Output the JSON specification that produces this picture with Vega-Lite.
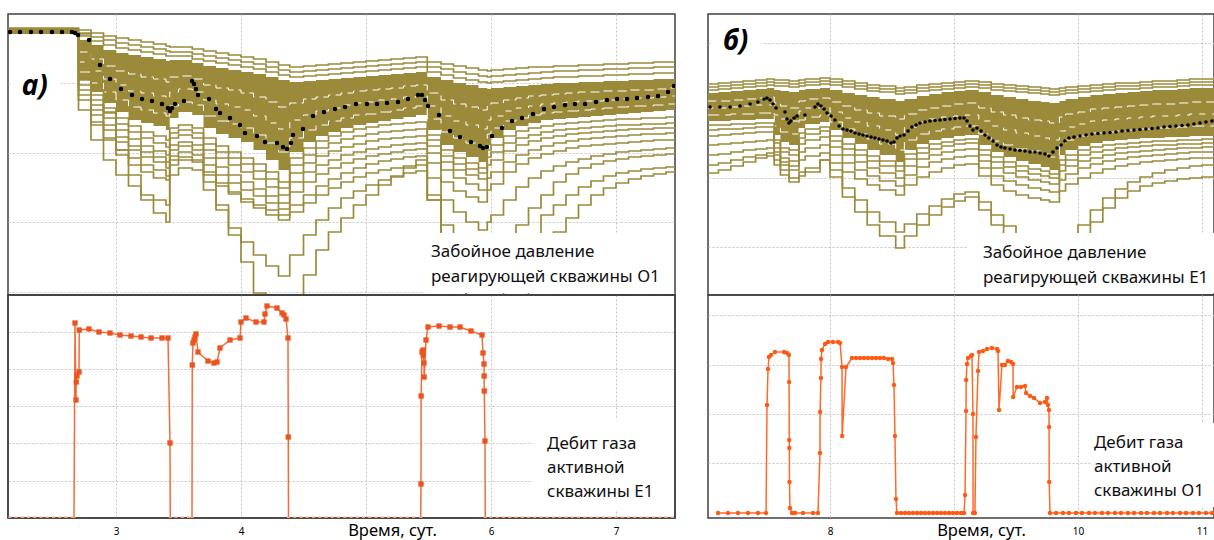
{
"$schema": "https://vega.github.io/schema/vega-lite/v6.json",
"background": "white",
"padding": {"left": 6, "top": 13, "right": 0, "bottom": 0},
"config": {
  "view": {"stroke": "#404040", "strokeWidth": 1.5},
  "axis": {"gridColor": "#c4c4c4", "gridDash": [2, 2], "gridWidth": 1, "labelFont": "Noto Sans", "titleFont": "Noto Sans", "minExtent": 0},
  "text": {"font": "Noto Sans"}
},
"datasets": {
"pa": [
{"t":2.13,"U1":272,"U2":271,"U3":270,"BT":272,"BB":266,"L1":267,"L2":267,"L3":267,"L4":267,"L5":267,"L6":267,"L7":267,"L8":267,"L9":267},
{"t":2.7,"U1":270,"U2":267,"U3":264,"BT":260,"BB":220,"L1":240,"L2":230,"L3":220,"L4":215,"L5":210,"L6":205,"L7":200,"L8":190,"L9":266,"W1":248,"W2":238,"W3":228},
{"t":2.8,"U1":267,"U2":263,"U3":259,"BT":255,"BB":208,"L1":205,"L2":200,"L3":195,"L4":190,"L5":185,"L6":178,"L7":175,"L8":160,"L9":210,"W1":241,"W2":229,"W3":217},
{"t":2.9,"U1":264,"U2":260,"U3":255,"BT":250,"BB":197,"L1":192,"L2":188,"L3":182,"L4":175,"L5":170,"L6":162,"L7":160,"L8":140,"L9":187,"W1":234,"W2":221,"W3":208},
{"t":3.0,"U1":262,"U2":257,"U3":252,"BT":247,"BB":188,"L1":182,"L2":176,"L3":170,"L4":163,"L5":158,"L6":150,"L7":145,"L8":125,"L9":150,"W1":229,"W2":215,"W3":200},
{"t":3.1,"U1":260,"U2":255,"U3":250,"BT":245,"BB":180,"L1":174,"L2":168,"L3":161,"L4":154,"L5":150,"L6":142,"L7":135,"L8":114,"L9":125,"W1":226,"W2":209,"W3":193},
{"t":3.2,"U1":258,"U2":253,"U3":248,"BT":243,"BB":177,"L1":168,"L2":162,"L3":154,"L4":148,"L5":143,"L6":135,"L7":128,"L8":105,"L9":100,"W1":223,"W2":207,"W3":190},
{"t":3.3,"U1":256,"U2":251,"U3":246,"BT":241,"BB":174,"L1":164,"L2":157,"L3":149,"L4":143,"L5":138,"L6":130,"L7":122,"L8":100,"L9":87,"W1":221,"W2":204,"W3":187},
{"t":3.4,"U1":254,"U2":249,"U3":244,"BT":239,"BB":170,"L1":160,"L2":153,"L3":145,"L4":138,"L5":132,"L6":124,"L7":120,"L8":95,"L9":78,"W1":218,"W2":201,"W3":184},
{"t":3.43,"U1":253,"U2":248,"U3":244,"BT":240,"BB":182,"L1":172,"L2":167,"L3":162,"L4":155,"L5":150,"L6":144,"L7":140,"L8":125,"L9":135,"W1":223,"W2":208,"W3":194},
{"t":3.5,"U1":253,"U2":248,"U3":244,"BT":240,"BB":188,"L1":175,"L2":170,"L3":165,"L4":158,"L5":154,"L6":148,"L7":143,"L8":132,"L9":140,"W1":224,"W2":211,"W3":198},
{"t":3.61,"U1":251,"U2":246,"U3":241,"BT":237,"BB":185,"L1":172,"L2":167,"L3":162,"L4":155,"L5":150,"L6":145,"L7":140,"L8":130,"L9":138,"W1":221,"W2":208,"W3":195},
{"t":3.7,"U1":249,"U2":244,"U3":239,"BT":234,"BB":172,"L1":162,"L2":156,"L3":150,"L4":142,"L5":135,"L6":128,"L7":125,"L8":110,"L9":118,"W1":215,"W2":200,"W3":184},
{"t":3.8,"U1":247,"U2":242,"U3":237,"BT":232,"BB":166,"L1":154,"L2":148,"L3":142,"L4":133,"L5":125,"L6":117,"L7":114,"L8":90,"L9":95,"W1":212,"W2":196,"W3":179},
{"t":3.9,"U1":245,"U2":240,"U3":235,"BT":230,"BB":162,"L1":148,"L2":142,"L3":135,"L4":125,"L5":117,"L6":108,"L7":106,"L8":72,"L9":65,"W1":210,"W2":193,"W3":176},
{"t":4.0,"U1":243,"U2":238,"U3":233,"BT":228,"BB":158,"L1":142,"L2":136,"L3":128,"L4":118,"L5":110,"L6":101,"L7":98,"L8":58,"L9":38,"W1":207,"W2":190,"W3":172},
{"t":4.1,"U1":241,"U2":236,"U3":231,"BT":226,"BB":150,"L1":136,"L2":129,"L3":121,"L4":111,"L5":104,"L6":95,"L7":92,"L8":45,"L9":7,"W1":203,"W2":184,"W3":165},
{"t":4.2,"U1":238,"U2":233,"U3":228,"BT":223,"BB":140,"L1":128,"L2":121,"L3":113,"L4":104,"L5":97,"L6":90,"L7":85,"L8":34,"L9":-20,"W1":198,"W2":177,"W3":157},
{"t":4.3,"U1":235,"U2":230,"U3":225,"BT":220,"BB":130,"L1":118,"L2":112,"L3":105,"L4":97,"L5":91,"L6":85,"L7":80,"L8":24,"L9":-30,"W1":193,"W2":171,"W3":148},
{"t":4.39,"U1":233,"U2":228,"U3":223,"BT":218,"BB":148,"L1":142,"L2":135,"L3":127,"L4":118,"L5":108,"L6":95,"L7":88,"L8":45,"L9":-20,"W1":197,"W2":180,"W3":162},
{"t":4.5,"U1":234,"U2":229,"U3":224,"BT":219,"BB":158,"L1":152,"L2":145,"L3":137,"L4":128,"L5":118,"L6":105,"L7":97,"L8":65,"L9":25,"W1":201,"W2":185,"W3":170},
{"t":4.6,"U1":235,"U2":230,"U3":225,"BT":220,"BB":164,"L1":159,"L2":152,"L3":144,"L4":135,"L5":126,"L6":114,"L7":105,"L8":80,"L9":50,"W1":203,"W2":189,"W3":175},
{"t":4.7,"U1":236,"U2":231,"U3":226,"BT":221,"BB":168,"L1":164,"L2":157,"L3":149,"L4":140,"L5":132,"L6":121,"L7":112,"L8":92,"L9":68,"W1":205,"W2":192,"W3":179},
{"t":4.8,"U1":237,"U2":232,"U3":227,"BT":222,"BB":172,"L1":168,"L2":161,"L3":153,"L4":145,"L5":137,"L6":127,"L7":118,"L8":102,"L9":82,"W1":207,"W2":195,"W3":182},
{"t":4.9,"U1":238,"U2":233,"U3":228,"BT":223,"BB":175,"L1":171,"L2":164,"L3":156,"L4":148,"L5":141,"L6":132,"L7":123,"L8":109,"L9":95,"W1":209,"W2":197,"W3":185},
{"t":5.0,"U1":239,"U2":234,"U3":229,"BT":224,"BB":177,"L1":173,"L2":166,"L3":159,"L4":151,"L5":144,"L6":136,"L7":127,"L8":115,"L9":105,"W1":210,"W2":198,"W3":186},
{"t":5.1,"U1":240,"U2":235,"U3":230,"BT":225,"BB":179,"L1":175,"L2":168,"L3":161,"L4":153,"L5":146,"L6":139,"L7":130,"L8":120,"L9":115,"W1":211,"W2":200,"W3":188},
{"t":5.2,"U1":241,"U2":236,"U3":231,"BT":226,"BB":181,"L1":176,"L2":169,"L3":162,"L4":155,"L5":148,"L6":141,"L7":132,"L8":124,"L9":123,"W1":212,"W2":201,"W3":190},
{"t":5.3,"U1":242,"U2":237,"U3":232,"BT":227,"BB":183,"L1":177,"L2":170,"L3":163,"L4":156,"L5":150,"L6":143,"L7":134,"L8":127,"L9":132,"W1":214,"W2":203,"W3":192},
{"t":5.4,"U1":243,"U2":238,"U3":233,"BT":228,"BB":185,"L1":178,"L2":171,"L3":164,"L4":157,"L5":151,"L6":144,"L7":135,"L8":129,"L9":140,"W1":215,"W2":204,"W3":194},
{"t":5.49,"U1":238,"U2":233,"U3":228,"BT":223,"BB":170,"L1":165,"L2":160,"L3":154,"L4":147,"L5":137,"L6":122,"L7":105,"L8":100,"L9":100,"W1":207,"W2":194,"W3":181},
{"t":5.6,"U1":236,"U2":231,"U3":225,"BT":220,"BB":155,"L1":150,"L2":144,"L3":138,"L4":130,"L5":118,"L6":100,"L7":75,"L8":60,"L9":65,"W1":200,"W2":184,"W3":168},
{"t":5.7,"U1":234,"U2":228,"U3":222,"BT":217,"BB":148,"L1":142,"L2":136,"L3":130,"L4":122,"L5":109,"L6":88,"L7":55,"L8":30,"L9":30,"W1":196,"W2":179,"W3":162},
{"t":5.8,"U1":232,"U2":226,"U3":220,"BT":215,"BB":143,"L1":137,"L2":131,"L3":125,"L4":116,"L5":103,"L6":78,"L7":38,"L8":0,"L9":-10,"W1":193,"W2":175,"W3":157},
{"t":5.9,"U1":230,"U2":224,"U3":218,"BT":212,"BB":138,"L1":132,"L2":127,"L3":121,"L4":110,"L5":98,"L6":70,"L7":25,"L8":-20,"L9":-30,"W1":190,"W2":171,"W3":153},
{"t":5.97,"U1":229,"U2":223,"U3":217,"BT":211,"BB":155,"L1":150,"L2":143,"L3":135,"L4":122,"L5":110,"L6":78,"L7":32,"L8":-20,"L9":-30,"W1":194,"W2":180,"W3":166},
{"t":6.0,"U1":230,"U2":224,"U3":218,"BT":212,"BB":162,"L1":155,"L2":148,"L3":140,"L4":128,"L5":116,"L6":85,"L7":38,"L8":-15,"L9":-30,"W1":197,"W2":184,"W3":172},
{"t":6.1,"U1":231,"U2":225,"U3":219,"BT":213,"BB":170,"L1":164,"L2":157,"L3":149,"L4":138,"L5":128,"L6":100,"L7":55,"L8":10,"L9":-20,"W1":200,"W2":189,"W3":179},
{"t":6.2,"U1":232,"U2":226,"U3":220,"BT":214,"BB":174,"L1":169,"L2":162,"L3":155,"L4":145,"L5":136,"L6":113,"L7":75,"L8":40,"L9":0,"W1":202,"W2":192,"W3":182},
{"t":6.3,"U1":233,"U2":227,"U3":221,"BT":215,"BB":177,"L1":172,"L2":165,"L3":159,"L4":150,"L5":142,"L6":122,"L7":92,"L8":65,"L9":25,"W1":204,"W2":194,"W3":185},
{"t":6.4,"U1":233,"U2":228,"U3":222,"BT":216,"BB":180,"L1":174,"L2":168,"L3":162,"L4":154,"L5":146,"L6":129,"L7":105,"L8":85,"L9":50,"W1":205,"W2":196,"W3":187},
{"t":6.5,"U1":234,"U2":229,"U3":223,"BT":217,"BB":181,"L1":176,"L2":170,"L3":164,"L4":157,"L5":149,"L6":134,"L7":118,"L8":95,"L9":68,"W1":206,"W2":197,"W3":188},
{"t":6.6,"U1":234,"U2":229,"U3":223,"BT":217,"BB":182,"L1":177,"L2":171,"L3":166,"L4":159,"L5":152,"L6":138,"L7":126,"L8":105,"L9":82,"W1":207,"W2":198,"W3":189},
{"t":6.7,"U1":235,"U2":230,"U3":224,"BT":218,"BB":183,"L1":178,"L2":172,"L3":167,"L4":161,"L5":154,"L6":141,"L7":132,"L8":113,"L9":95,"W1":208,"W2":199,"W3":190},
{"t":6.8,"U1":235,"U2":230,"U3":224,"BT":218,"BB":184,"L1":179,"L2":173,"L3":168,"L4":162,"L5":155,"L6":144,"L7":136,"L8":119,"L9":105,"W1":208,"W2":199,"W3":191},
{"t":6.9,"U1":236,"U2":231,"U3":225,"BT":219,"BB":185,"L1":180,"L2":174,"L3":169,"L4":163,"L5":156,"L6":146,"L7":139,"L8":124,"L9":112,"W1":209,"W2":200,"W3":192},
{"t":7.0,"U1":236,"U2":231,"U3":225,"BT":219,"BB":186,"L1":181,"L2":175,"L3":170,"L4":164,"L5":157,"L6":148,"L7":141,"L8":127,"L9":117,"W1":209,"W2":201,"W3":193},
{"t":7.1,"U1":237,"U2":232,"U3":226,"BT":220,"BB":187,"L1":181,"L2":175,"L3":171,"L4":165,"L5":158,"L6":149,"L7":143,"L8":129,"L9":121,"W1":210,"W2":202,"W3":194},
{"t":7.2,"U1":237,"U2":232,"U3":226,"BT":220,"BB":188,"L1":182,"L2":176,"L3":171,"L4":166,"L5":159,"L6":150,"L7":144,"L8":131,"L9":124,"W1":210,"W2":202,"W3":194},
{"t":7.3,"U1":238,"U2":233,"U3":227,"BT":221,"BB":189,"L1":182,"L2":176,"L3":172,"L4":166,"L5":160,"L6":151,"L7":145,"L8":132,"L9":126,"W1":211,"W2":203,"W3":195},
{"t":7.4,"U1":238,"U2":233,"U3":227,"BT":221,"BB":190,"L1":183,"L2":177,"L3":172,"L4":167,"L5":160,"L6":152,"L7":146,"L8":133,"L9":128,"W1":212,"W2":204,"W3":196},
{"t":7.47,"U1":238,"U2":233,"U3":227,"BT":221,"BB":190,"L1":183,"L2":177,"L3":173,"L4":167,"L5":161,"L6":152,"L7":146,"L8":134,"L9":129,"W1":212,"W2":204,"W3":196}
],
"da": [
{"t":2.152,"P":268},{"t":2.232,"P":268},{"t":2.32,"P":268},{"t":2.4,"P":268},{"t":2.488,"P":268},{"t":2.568,"P":268},{"t":2.648,"P":268},{"t":2.672,"P":267},{"t":2.696,"P":265},{"t":2.784,"P":260},{"t":2.872,"P":235},{"t":2.952,"P":221},{"t":3.04,"P":211},{"t":3.128,"P":205},{"t":3.208,"P":201},{"t":3.288,"P":199},{"t":3.368,"P":196},{"t":3.416,"P":192},{"t":3.432,"P":189},{"t":3.448,"P":192},{"t":3.472,"P":196},{"t":3.544,"P":199},{"t":3.608,"P":219},{"t":3.624,"P":216},{"t":3.64,"P":211},{"t":3.656,"P":205},{"t":3.744,"P":201},{"t":3.8,"P":191},{"t":3.832,"P":187},{"t":3.912,"P":182},{"t":3.992,"P":175},{"t":4.032,"P":167},{"t":4.128,"P":164},{"t":4.192,"P":158},{"t":4.288,"P":157},{"t":4.336,"P":153},{"t":4.368,"P":151},{"t":4.4,"P":157},{"t":4.416,"P":165},{"t":4.496,"P":171},{"t":4.576,"P":184},{"t":4.664,"P":188},{"t":4.752,"P":191},{"t":4.832,"P":193},{"t":4.92,"P":196},{"t":5.008,"P":196},{"t":5.088,"P":196},{"t":5.168,"P":197},{"t":5.256,"P":198},{"t":5.336,"P":201},{"t":5.416,"P":205},{"t":5.448,"P":205},{"t":5.472,"P":200},{"t":5.496,"P":194},{"t":5.584,"P":185},{"t":5.672,"P":169},{"t":5.752,"P":163},{"t":5.84,"P":158},{"t":5.912,"P":154},{"t":5.936,"P":152},{"t":5.968,"P":153},{"t":6.008,"P":164},{"t":6.088,"P":172},{"t":6.168,"P":179},{"t":6.248,"P":182},{"t":6.336,"P":186},{"t":6.424,"P":191},{"t":6.504,"P":193},{"t":6.592,"P":195},{"t":6.672,"P":196},{"t":6.752,"P":196},{"t":6.84,"P":198},{"t":6.928,"P":200},{"t":7.008,"P":201},{"t":7.088,"P":201},{"t":7.168,"P":202},{"t":7.256,"P":203},{"t":7.336,"P":204},{"t":7.416,"P":208},{"t":7.464,"P":214}
],
"pb": [
{"t":7.01,"U1":216,"U2":213,"U3":210,"BT":207,"BB":179,"M1":175,"M2":170,"M3":164,"M4":155,"M5":145,"M6":135,"M7":127,"W1":199,"W2":192,"W3":185},
{"t":7.1,"U1":217,"U2":214,"U3":211,"BT":208,"BB":179,"M1":175,"M2":171,"M3":165,"M4":156,"M5":146,"M6":137,"M7":130,"W1":199,"W2":192,"W3":185},
{"t":7.2,"U1":218,"U2":215,"U3":212,"BT":209,"BB":180,"M1":176,"M2":171,"M3":166,"M4":157,"M5":148,"M6":140,"M7":134,"W1":200,"W2":193,"W3":186},
{"t":7.3,"U1":219,"U2":216,"U3":213,"BT":210,"BB":180,"M1":176,"M2":172,"M3":167,"M4":158,"M5":150,"M6":143,"M7":138,"W1":201,"W2":194,"W3":186},
{"t":7.4,"U1":220,"U2":217,"U3":214,"BT":211,"BB":181,"M1":177,"M2":173,"M3":168,"M4":159,"M5":151,"M6":145,"M7":142,"W1":202,"W2":195,"W3":187},
{"t":7.49,"U1":221,"U2":218,"U3":215,"BT":212,"BB":181,"M1":177,"M2":173,"M3":168,"M4":160,"M5":152,"M6":147,"M7":144,"W1":203,"W2":195,"W3":187},
{"t":7.55,"U1":220,"U2":217,"U3":214,"BT":210,"BB":165,"M1":160,"M2":157,"M3":152,"M4":148,"M5":145,"M6":140,"M7":135,"W1":197,"W2":185,"W3":174},
{"t":7.6,"U1":220,"U2":217,"U3":214,"BT":209,"BB":158,"M1":152,"M2":148,"M3":142,"M4":138,"M5":135,"M6":130,"M7":125,"W1":194,"W2":181,"W3":168},
{"t":7.67,"U1":219,"U2":216,"U3":213,"BT":208,"BB":155,"M1":150,"M2":145,"M3":139,"M4":134,"M5":130,"M6":122,"M7":118,"W1":192,"W2":179,"W3":166},
{"t":7.75,"U1":220,"U2":217,"U3":214,"BT":210,"BB":172,"M1":167,"M2":162,"M3":156,"M4":148,"M5":140,"M6":128,"M7":124,"W1":199,"W2":189,"W3":180},
{"t":7.8,"U1":221,"U2":218,"U3":215,"BT":211,"BB":176,"M1":171,"M2":166,"M3":160,"M4":152,"M5":144,"M6":132,"M7":128,"W1":201,"W2":192,"W3":183},
{"t":7.92,"U1":222,"U2":219,"U3":216,"BT":212,"BB":178,"M1":173,"M2":169,"M3":163,"M4":155,"M5":147,"M6":140,"M7":140,"W1":202,"W2":193,"W3":185},
{"t":8.0,"U1":221,"U2":218,"U3":215,"BT":210,"BB":170,"M1":164,"M2":159,"M3":153,"M4":145,"M5":137,"M6":130,"M7":123,"W1":198,"W2":188,"W3":178},
{"t":8.1,"U1":219,"U2":216,"U3":213,"BT":207,"BB":162,"M1":156,"M2":151,"M3":145,"M4":137,"M5":128,"M6":112,"M7":103,"W1":194,"W2":182,"W3":171},
{"t":8.2,"U1":217,"U2":214,"U3":211,"BT":205,"BB":156,"M1":150,"M2":145,"M3":138,"M4":130,"M5":121,"M6":100,"M7":88,"W1":190,"W2":178,"W3":166},
{"t":8.3,"U1":215,"U2":212,"U3":209,"BT":203,"BB":150,"M1":144,"M2":139,"M3":132,"M4":124,"M5":115,"M6":88,"M7":75,"W1":187,"W2":174,"W3":161},
{"t":8.4,"U1":214,"U2":211,"U3":208,"BT":201,"BB":145,"M1":139,"M2":134,"M3":127,"M4":119,"M5":110,"M6":78,"M7":64,"W1":184,"W2":170,"W3":156},
{"t":8.53,"U1":212,"U2":209,"U3":206,"BT":199,"BB":138,"M1":134,"M2":129,"M3":122,"M4":114,"M5":105,"M6":68,"M7":52,"W1":181,"W2":165,"W3":150},
{"t":8.6,"U1":213,"U2":210,"U3":207,"BT":201,"BB":150,"M1":146,"M2":141,"M3":134,"M4":125,"M5":115,"M6":76,"M7":64,"W1":186,"W2":173,"W3":160},
{"t":8.7,"U1":215,"U2":212,"U3":209,"BT":204,"BB":156,"M1":152,"M2":147,"M3":141,"M4":133,"M5":123,"M6":86,"M7":75,"W1":190,"W2":178,"W3":166},
{"t":8.8,"U1":216,"U2":213,"U3":210,"BT":206,"BB":160,"M1":156,"M2":151,"M3":145,"M4":138,"M5":128,"M6":94,"M7":85,"W1":192,"W2":181,"W3":169},
{"t":8.9,"U1":217,"U2":214,"U3":211,"BT":208,"BB":162,"M1":158,"M2":154,"M3":148,"M4":141,"M5":132,"M6":101,"M7":93,"W1":194,"W2":183,"W3":171},
{"t":9.0,"U1":218,"U2":215,"U3":212,"BT":209,"BB":164,"M1":160,"M2":156,"M3":150,"M4":143,"M5":135,"M6":106,"M7":99,"W1":196,"W2":184,"W3":173},
{"t":9.09,"U1":219,"U2":216,"U3":213,"BT":210,"BB":165,"M1":161,"M2":157,"M3":151,"M4":144,"M5":136,"M6":108,"M7":103,"W1":197,"W2":185,"W3":174},
{"t":9.2,"U1":218,"U2":215,"U3":212,"BT":208,"BB":155,"M1":150,"M2":145,"M3":139,"M4":132,"M5":124,"M6":98,"M7":90,"W1":192,"W2":179,"W3":166},
{"t":9.3,"U1":216,"U2":213,"U3":210,"BT":205,"BB":148,"M1":143,"M2":138,"M3":132,"M4":124,"M5":115,"M6":85,"M7":75,"W1":188,"W2":174,"W3":159},
{"t":9.4,"U1":215,"U2":212,"U3":209,"BT":203,"BB":143,"M1":138,"M2":133,"M3":127,"M4":119,"M5":109,"M6":74,"M7":62,"W1":185,"W2":170,"W3":155},
{"t":9.5,"U1":214,"U2":211,"U3":208,"BT":201,"BB":139,"M1":134,"M2":129,"M3":123,"M4":115,"M5":105,"M6":64,"M7":50,"W1":182,"W2":167,"W3":151},
{"t":9.6,"U1":213,"U2":210,"U3":207,"BT":199,"BB":136,"M1":131,"M2":126,"M3":120,"M4":112,"M5":102,"M6":55,"M7":38,"W1":180,"W2":164,"W3":149},
{"t":9.7,"U1":212,"U2":209,"U3":206,"BT":198,"BB":133,"M1":129,"M2":124,"M3":118,"M4":110,"M5":100,"M6":48,"M7":28,"W1":179,"W2":162,"W3":146},
{"t":9.77,"U1":211,"U2":208,"U3":205,"BT":197,"BB":130,"M1":126,"M2":122,"M3":116,"M4":108,"M5":98,"M6":42,"M7":20,"W1":177,"W2":160,"W3":143},
{"t":9.85,"U1":212,"U2":209,"U3":206,"BT":199,"BB":145,"M1":140,"M2":135,"M3":129,"M4":120,"M5":109,"M6":50,"M7":30,"W1":183,"W2":169,"W3":156},
{"t":9.9,"U1":213,"U2":210,"U3":207,"BT":201,"BB":150,"M1":145,"M2":140,"M3":134,"M4":126,"M5":116,"M6":60,"M7":42,"W1":186,"W2":173,"W3":160},
{"t":10.0,"U1":214,"U2":211,"U3":208,"BT":203,"BB":154,"M1":150,"M2":145,"M3":139,"M4":132,"M5":122,"M6":75,"M7":62,"W1":188,"W2":176,"W3":164},
{"t":10.1,"U1":215,"U2":212,"U3":209,"BT":205,"BB":157,"M1":153,"M2":148,"M3":142,"M4":136,"M5":127,"M6":90,"M7":78,"W1":191,"W2":179,"W3":167},
{"t":10.2,"U1":216,"U2":213,"U3":210,"BT":206,"BB":159,"M1":155,"M2":150,"M3":145,"M4":139,"M5":131,"M6":102,"M7":92,"W1":192,"W2":180,"W3":168},
{"t":10.3,"U1":217,"U2":214,"U3":211,"BT":207,"BB":160,"M1":156,"M2":152,"M3":147,"M4":141,"M5":134,"M6":111,"M7":102,"W1":193,"W2":181,"W3":169},
{"t":10.4,"U1":217,"U2":214,"U3":211,"BT":208,"BB":161,"M1":157,"M2":153,"M3":148,"M4":143,"M5":136,"M6":118,"M7":109,"W1":194,"W2":182,"W3":170},
{"t":10.5,"U1":218,"U2":215,"U3":212,"BT":209,"BB":162,"M1":158,"M2":154,"M3":149,"M4":144,"M5":138,"M6":123,"M7":114,"W1":195,"W2":183,"W3":171},
{"t":10.6,"U1":219,"U2":216,"U3":213,"BT":210,"BB":162,"M1":159,"M2":155,"M3":150,"M4":145,"M5":139,"M6":127,"M7":117,"W1":196,"W2":184,"W3":172},
{"t":10.7,"U1":219,"U2":216,"U3":213,"BT":210,"BB":163,"M1":159,"M2":155,"M3":151,"M4":146,"M5":140,"M6":130,"M7":119,"W1":196,"W2":184,"W3":172},
{"t":10.8,"U1":220,"U2":217,"U3":214,"BT":211,"BB":163,"M1":160,"M2":156,"M3":152,"M4":147,"M5":141,"M6":132,"M7":121,"W1":197,"W2":185,"W3":173},
{"t":10.9,"U1":221,"U2":218,"U3":215,"BT":212,"BB":164,"M1":160,"M2":156,"M3":152,"M4":148,"M5":142,"M6":134,"M7":122,"W1":198,"W2":186,"W3":174},
{"t":11.0,"U1":221,"U2":218,"U3":215,"BT":212,"BB":164,"M1":161,"M2":157,"M3":153,"M4":148,"M5":142,"M6":135,"M7":123,"W1":198,"W2":186,"W3":174},
{"t":11.1,"U1":222,"U2":219,"U3":216,"BT":213,"BB":165,"M1":161,"M2":157,"M3":153,"M4":149,"M5":143,"M6":136,"M7":124,"W1":199,"W2":187,"W3":175}
],
"db": [
{"t":7.032,"P":193},{"t":7.113,"P":193},{"t":7.194,"P":193},{"t":7.274,"P":194},{"t":7.355,"P":196},{"t":7.419,"P":198},{"t":7.468,"P":201},{"t":7.492,"P":202},{"t":7.516,"P":200},{"t":7.54,"P":196},{"t":7.565,"P":192},{"t":7.637,"P":188},{"t":7.653,"P":181},{"t":7.669,"P":177},{"t":7.685,"P":179},{"t":7.71,"P":182},{"t":7.734,"P":184},{"t":7.798,"P":185},{"t":7.879,"P":193},{"t":7.903,"P":196},{"t":7.927,"P":194},{"t":7.952,"P":191},{"t":7.976,"P":187},{"t":8.008,"P":184},{"t":8.04,"P":180},{"t":8.073,"P":174},{"t":8.105,"P":171},{"t":8.137,"P":170},{"t":8.169,"P":169},{"t":8.202,"P":167},{"t":8.234,"P":166},{"t":8.266,"P":165},{"t":8.298,"P":164},{"t":8.331,"P":163},{"t":8.363,"P":162},{"t":8.395,"P":161},{"t":8.427,"P":160},{"t":8.46,"P":159},{"t":8.492,"P":157},{"t":8.516,"P":158},{"t":8.54,"P":162},{"t":8.565,"P":164},{"t":8.597,"P":165},{"t":8.629,"P":169},{"t":8.661,"P":173},{"t":8.694,"P":175},{"t":8.726,"P":177},{"t":8.766,"P":178},{"t":8.806,"P":179},{"t":8.847,"P":179.5},{"t":8.887,"P":180},{"t":8.927,"P":180.5},{"t":8.968,"P":181},{"t":9.008,"P":181.5},{"t":9.048,"P":182},{"t":9.081,"P":182},{"t":9.105,"P":179},{"t":9.129,"P":174},{"t":9.153,"P":170},{"t":9.185,"P":172},{"t":9.218,"P":169},{"t":9.25,"P":165},{"t":9.282,"P":162},{"t":9.315,"P":159},{"t":9.347,"P":155},{"t":9.379,"P":153},{"t":9.411,"P":152},{"t":9.452,"P":151},{"t":9.492,"P":150},{"t":9.532,"P":149.5},{"t":9.573,"P":149},{"t":9.613,"P":148},{"t":9.653,"P":148},{"t":9.694,"P":147},{"t":9.734,"P":146},{"t":9.766,"P":144},{"t":9.798,"P":148},{"t":9.831,"P":152},{"t":9.863,"P":155},{"t":9.895,"P":159},{"t":9.927,"P":162},{"t":9.968,"P":163},{"t":10.016,"P":164},{"t":10.065,"P":165},{"t":10.113,"P":166},{"t":10.161,"P":166.5},{"t":10.21,"P":167},{"t":10.258,"P":167.5},{"t":10.306,"P":168},{"t":10.355,"P":169},{"t":10.403,"P":169.5},{"t":10.452,"P":170},{"t":10.5,"P":170.5},{"t":10.548,"P":171},{"t":10.597,"P":171.5},{"t":10.645,"P":172},{"t":10.694,"P":173},{"t":10.742,"P":173.5},{"t":10.79,"P":174},{"t":10.839,"P":174.5},{"t":10.887,"P":175},{"t":10.935,"P":176},{"t":10.984,"P":177},{"t":11.032,"P":178},{"t":11.081,"P":179}
],
"ra": [
{"t":2.15,"Q":0},{"t":2.2,"Q":0},{"t":2.25,"Q":0},{"t":2.3,"Q":0},{"t":2.35,"Q":0},{"t":2.4,"Q":0},{"t":2.45,"Q":0},{"t":2.5,"Q":0},{"t":2.55,"Q":0},{"t":2.6,"Q":0},{"t":2.65,"Q":0},
{"t":2.664,"Q":0},{"t":2.672,"Q":195},{"t":2.68,"Q":118},{"t":2.682,"Q":136},{"t":2.688,"Q":142},{"t":2.704,"Q":146},{"t":2.706,"Q":188},{"t":2.784,"Q":189},{"t":2.864,"Q":186},{"t":2.952,"Q":185},{"t":3.032,"Q":183},{"t":3.12,"Q":182},{"t":3.2,"Q":181},{"t":3.28,"Q":180},{"t":3.368,"Q":180},{"t":3.416,"Q":180},{"t":3.432,"Q":75},{"t":3.434,"Q":0},
{"t":3.48,"Q":0},{"t":3.53,"Q":0},{"t":3.58,"Q":0},
{"t":3.608,"Q":0},{"t":3.61,"Q":153},{"t":3.616,"Q":175},{"t":3.624,"Q":178},{"t":3.632,"Q":181},{"t":3.64,"Q":184},{"t":3.656,"Q":166},{"t":3.736,"Q":157},{"t":3.784,"Q":155},{"t":3.808,"Q":156},{"t":3.832,"Q":170},{"t":3.912,"Q":178},{"t":3.992,"Q":180},{"t":4.0,"Q":196},{"t":4.04,"Q":200},{"t":4.12,"Q":196},{"t":4.184,"Q":196},{"t":4.192,"Q":204},{"t":4.208,"Q":212},{"t":4.288,"Q":210},{"t":4.328,"Q":205},{"t":4.344,"Q":203},{"t":4.36,"Q":199},{"t":4.376,"Q":180},{"t":4.378,"Q":81},{"t":4.38,"Q":0},
{"t":4.43,"Q":0},{"t":4.48,"Q":0},{"t":4.53,"Q":0},{"t":4.58,"Q":0},{"t":4.63,"Q":0},{"t":4.68,"Q":0},{"t":4.73,"Q":0},{"t":4.78,"Q":0},{"t":4.83,"Q":0},{"t":4.88,"Q":0},{"t":4.93,"Q":0},{"t":4.98,"Q":0},{"t":5.03,"Q":0},{"t":5.08,"Q":0},{"t":5.13,"Q":0},{"t":5.18,"Q":0},{"t":5.23,"Q":0},{"t":5.28,"Q":0},{"t":5.33,"Q":0},{"t":5.38,"Q":0},
{"t":5.438,"Q":0},{"t":5.44,"Q":34},{"t":5.441,"Q":122},{"t":5.448,"Q":166},{"t":5.456,"Q":168},{"t":5.457,"Q":163},{"t":5.464,"Q":155},{"t":5.465,"Q":141},{"t":5.48,"Q":178},{"t":5.496,"Q":191},{"t":5.584,"Q":192},{"t":5.672,"Q":191},{"t":5.752,"Q":191},{"t":5.84,"Q":187},{"t":5.928,"Q":183},{"t":5.936,"Q":165},{"t":5.944,"Q":154},{"t":5.945,"Q":142},{"t":5.946,"Q":127},{"t":5.952,"Q":77},{"t":5.954,"Q":0},
{"t":6.0,"Q":0},{"t":6.05,"Q":0},{"t":6.1,"Q":0},{"t":6.15,"Q":0},{"t":6.2,"Q":0},{"t":6.25,"Q":0},{"t":6.3,"Q":0},{"t":6.35,"Q":0},{"t":6.4,"Q":0},{"t":6.45,"Q":0},{"t":6.5,"Q":0},{"t":6.55,"Q":0},{"t":6.6,"Q":0},{"t":6.65,"Q":0},{"t":6.7,"Q":0},{"t":6.75,"Q":0},{"t":6.8,"Q":0},{"t":6.85,"Q":0},{"t":6.9,"Q":0},{"t":6.95,"Q":0},{"t":7.0,"Q":0},{"t":7.05,"Q":0},{"t":7.1,"Q":0},{"t":7.15,"Q":0},{"t":7.2,"Q":0},{"t":7.25,"Q":0},{"t":7.3,"Q":0},{"t":7.35,"Q":0},{"t":7.4,"Q":0},{"t":7.45,"Q":0}
],
"rb": [
{"t":7.097,"Q":0},{"t":7.177,"Q":0},{"t":7.258,"Q":0},{"t":7.339,"Q":0},{"t":7.419,"Q":0},{"t":7.484,"Q":0},
{"t":7.492,"Q":108},{"t":7.5,"Q":144},{"t":7.508,"Q":156},{"t":7.524,"Q":158},{"t":7.556,"Q":161},{"t":7.629,"Q":161},{"t":7.653,"Q":160},{"t":7.669,"Q":158},{"t":7.67,"Q":131},{"t":7.671,"Q":73},{"t":7.672,"Q":65},{"t":7.673,"Q":31},{"t":7.677,"Q":5},{"t":7.694,"Q":0},{"t":7.718,"Q":0},{"t":7.782,"Q":0},{"t":7.863,"Q":0},{"t":7.903,"Q":0},
{"t":7.919,"Q":60},{"t":7.92,"Q":101},{"t":7.927,"Q":135},{"t":7.928,"Q":154},{"t":7.935,"Q":163},{"t":7.96,"Q":169},{"t":7.984,"Q":171},{"t":8.024,"Q":171},{"t":8.065,"Q":171},{"t":8.081,"Q":170},{"t":8.097,"Q":146},{"t":8.098,"Q":77},{"t":8.129,"Q":146},{"t":8.177,"Q":155},{"t":8.21,"Q":155},{"t":8.242,"Q":155},{"t":8.274,"Q":155},{"t":8.306,"Q":155},{"t":8.339,"Q":155},{"t":8.371,"Q":155},{"t":8.403,"Q":155},{"t":8.435,"Q":155},{"t":8.468,"Q":154},{"t":8.5,"Q":154},{"t":8.508,"Q":150},{"t":8.516,"Q":128},{"t":8.524,"Q":77},{"t":8.532,"Q":14},{"t":8.54,"Q":0},
{"t":8.573,"Q":0},{"t":8.605,"Q":0},{"t":8.637,"Q":0},{"t":8.669,"Q":0},{"t":8.702,"Q":0},{"t":8.734,"Q":0},{"t":8.766,"Q":0},{"t":8.798,"Q":0},{"t":8.831,"Q":0},{"t":8.863,"Q":0},{"t":8.895,"Q":0},{"t":8.927,"Q":0},{"t":8.96,"Q":0},{"t":8.992,"Q":0},{"t":9.024,"Q":0},{"t":9.056,"Q":0},{"t":9.081,"Q":0},
{"t":9.089,"Q":18},{"t":9.097,"Q":102},{"t":9.098,"Q":133},{"t":9.105,"Q":149},{"t":9.113,"Q":155},{"t":9.137,"Q":157},{"t":9.145,"Q":158},{"t":9.153,"Q":99},{"t":9.154,"Q":0},{"t":9.169,"Q":0},{"t":9.177,"Q":76},{"t":9.194,"Q":142},{"t":9.202,"Q":161},{"t":9.234,"Q":162},{"t":9.266,"Q":164},{"t":9.306,"Q":165},{"t":9.347,"Q":164},{"t":9.355,"Q":162},{"t":9.363,"Q":103},{"t":9.387,"Q":148},{"t":9.411,"Q":148},{"t":9.435,"Q":152},{"t":9.46,"Q":151},{"t":9.476,"Q":149},{"t":9.477,"Q":116},{"t":9.508,"Q":126},{"t":9.54,"Q":126},{"t":9.573,"Q":127},{"t":9.581,"Q":120},{"t":9.613,"Q":117},{"t":9.645,"Q":115},{"t":9.694,"Q":110},{"t":9.734,"Q":111},{"t":9.75,"Q":115},{"t":9.758,"Q":108},{"t":9.766,"Q":103},{"t":9.767,"Q":86},{"t":9.768,"Q":31},{"t":9.774,"Q":0},
{"t":9.823,"Q":0},{"t":9.879,"Q":0},{"t":9.927,"Q":0},{"t":9.984,"Q":0},{"t":10.032,"Q":0},{"t":10.089,"Q":0},{"t":10.137,"Q":0},{"t":10.194,"Q":0},{"t":10.242,"Q":0},{"t":10.298,"Q":0},{"t":10.347,"Q":0},{"t":10.403,"Q":0},{"t":10.452,"Q":0},{"t":10.508,"Q":0},{"t":10.556,"Q":0},{"t":10.613,"Q":0},{"t":10.661,"Q":0},{"t":10.718,"Q":0},{"t":10.766,"Q":0},{"t":10.823,"Q":0},{"t":10.871,"Q":0},{"t":10.927,"Q":0},{"t":10.976,"Q":0},{"t":11.032,"Q":0},{"t":11.081,"Q":0}
]
},
"hconcat": [
{
"vconcat": [
{
"width": 667, "height": 281,
"layer": [
{"data": {"name": "pa"},
 "mark": {"type": "area", "interpolate": "step-after", "color": "#9c8a3b", "opacity": 1, "clip": true},
 "encoding": {
  "x": {"field": "t", "type": "quantitative", "scale": {"domain": [2.136, 7.472], "nice": false, "zero": false}, "axis": {"values": [3,4,5,6,7], "labels": false, "ticks": false, "domain": false, "title": null, "grid": true}},
  "y": {"field": "BT", "type": "quantitative", "scale": {"domain": [5, 286], "nice": false, "zero": false}, "axis": {"values": [8,78,147,217], "labels": false, "ticks": false, "domain": false, "title": null, "grid": true}},
  "y2": {"field": "BB"}}},
{"data": {"name": "pa"},
 "transform": [{"fold": ["W1","W2","W3"], "as": ["w","P"]}],
 "mark": {"type": "line", "interpolate": "step-after", "color": "#ffffff", "strokeWidth": 1, "clip": true},
 "encoding": {"x": {"field": "t", "type": "quantitative"}, "y": {"field": "P", "type": "quantitative"}, "detail": {"field": "w", "type": "nominal"},
  "strokeDash": {"field": "w", "type": "nominal", "scale": {"range": [[9,5],[6,7],[12,6]]}, "legend": null}}},
{"data": {"name": "pa"},
 "transform": [{"fold": ["U1","U2","U3","L1","L2","L3","L4","L5","L6","L7","L8","L9"], "as": ["s","P"]}],
 "mark": {"type": "line", "interpolate": "step-after", "color": "#9c8a3b", "strokeWidth": 1.7, "clip": true},
 "encoding": {"x": {"field": "t", "type": "quantitative"}, "y": {"field": "P", "type": "quantitative"}, "detail": {"field": "s", "type": "nominal"}}},
{"data": {"name": "da"},
 "mark": {"type": "circle", "color": "#000000", "size": 20, "opacity": 1, "clip": true},
 "encoding": {"x": {"field": "t", "type": "quantitative"}, "y": {"field": "P", "type": "quantitative"}}},
{"data": {"values": [{}]},
 "mark": {"type": "rect", "color": "white", "opacity": 1, "clip": true},
 "encoding": {"x": {"datum": 5.47}, "x2": {"datum": 7.462}, "y": {"datum": 67}, "y2": {"datum": 7}}},
{"data": {"values": [{}]},
 "mark": {"type": "rect", "color": "white", "opacity": 1},
 "encoding": {"x": {"datum": 2.16}, "x2": {"datum": 2.56}, "y": {"datum": 226}, "y2": {"datum": 208}}},
{"data": {"values": [{}]},
 "mark": {"type": "text", "text": ["Забойное давление", "реагирующей скважины О1"], "align": "left", "baseline": "middle", "fontSize": 17, "lineHeight": 25, "color": "#111111"},
 "encoding": {"x": {"datum": 5.52}, "y": {"datum": 48}}},
{"data": {"values": [{}]},
 "mark": {"type": "text", "text": "а)", "align": "left", "baseline": "alphabetic", "fontSize": 28, "fontWeight": "bold", "fontStyle": "italic", "color": "#000000"},
 "encoding": {"x": {"datum": 2.248}, "y": {"datum": 205}}}
]
},
{
"width": 667, "height": 223,
"layer": [
{"data": {"name": "ra"},
 "mark": {"type": "line", "color": "#f26c3a", "strokeWidth": 1.5, "clip": true},
 "encoding": {
  "x": {"field": "t", "type": "quantitative", "scale": {"domain": [2.136, 7.472], "nice": false, "zero": false},
        "axis": {"values": [3,4,5,6,7], "format": "d", "labelExpr": "datum.value == 5 ? '' : datum.label", "grid": true, "ticks": false, "domain": false, "labelFontSize": 10, "labelPadding": 8, "labelColor": "#000000", "title": "Время, сут.", "titleFontSize": 16.5, "titleFontWeight": "normal", "titleColor": "#000000", "titleX": 384, "titleY": 17, "titleBaseline": "alphabetic", "titleAlign": "center"}},
  "y": {"field": "Q", "type": "quantitative", "scale": {"domain": [0, 223], "nice": false, "zero": false}, "axis": {"values": [37,75,112,149,186], "labels": false, "ticks": false, "domain": false, "title": null, "grid": true}}}},
{"data": {"values": [{}]},
 "mark": {"type": "rect", "fillOpacity": 0, "stroke": "#404040", "strokeWidth": 1.5},
 "encoding": {"x": {"datum": 2.136}, "x2": {"datum": 7.472}, "y": {"datum": 0}, "y2": {"datum": 223}}},
{"data": {"name": "ra"},
 "mark": {"type": "square", "opacity": 1, "clip": true},
 "encoding": {"x": {"field": "t", "type": "quantitative"}, "y": {"field": "Q", "type": "quantitative"},
  "color": {"condition": {"test": "datum.Q == 0", "value": "#f6a27e"}, "value": "#ec5320"},
  "size": {"condition": {"test": "datum.Q == 0", "value": 9}, "value": 28}}},
{"data": {"values": [{}]},
 "mark": {"type": "rect", "color": "white", "opacity": 1},
 "encoding": {"x": {"datum": 6.336}, "x2": {"datum": 7.462}, "y": {"datum": 98}, "y2": {"datum": 8}}},
{"data": {"values": [{}]},
 "mark": {"type": "text", "text": ["Дебит газа", "активной", "скважины Е1"], "align": "left", "baseline": "middle", "fontSize": 17, "lineHeight": 24, "color": "#111111"},
 "encoding": {"x": {"datum": 6.448}, "y": {"datum": 74}}}
]
}
],
"spacing": 0, "bounds": "flush",
"resolve": {"scale": {"x": "independent", "y": "independent", "strokeDash": "independent"}}
},
{
"vconcat": [
{
"width": 506, "height": 281,
"layer": [
{"data": {"name": "pb"},
 "mark": {"type": "area", "interpolate": "step-after", "color": "#9c8a3b", "opacity": 1, "clip": true},
 "encoding": {
  "x": {"field": "t", "type": "quantitative", "scale": {"domain": [7.016, 11.097], "nice": false, "zero": false}, "axis": {"values": [8,9,10,11], "labels": false, "ticks": false, "domain": false, "title": null, "grid": true}},
  "y": {"field": "BT", "type": "quantitative", "scale": {"domain": [5, 286], "nice": false, "zero": false}, "axis": {"values": [53,122,190,257], "labels": false, "ticks": false, "domain": false, "title": null, "grid": true}},
  "y2": {"field": "BB"}}},
{"data": {"name": "pb"},
 "transform": [{"fold": ["W1","W2","W3"], "as": ["w","P"]}],
 "mark": {"type": "line", "interpolate": "step-after", "color": "#ffffff", "strokeWidth": 1, "clip": true},
 "encoding": {"x": {"field": "t", "type": "quantitative"}, "y": {"field": "P", "type": "quantitative"}, "detail": {"field": "w", "type": "nominal"},
  "strokeDash": {"field": "w", "type": "nominal", "scale": {"range": [[9,5],[6,7],[12,6]]}, "legend": null}}},
{"data": {"name": "pb"},
 "transform": [{"fold": ["U1","U2","U3","M1","M2","M3","M4","M5","M6","M7"], "as": ["s","P"]}],
 "mark": {"type": "line", "interpolate": "step-after", "color": "#9c8a3b", "strokeWidth": 1.7, "clip": true},
 "encoding": {"x": {"field": "t", "type": "quantitative"}, "y": {"field": "P", "type": "quantitative"}, "detail": {"field": "s", "type": "nominal"}}},
{"data": {"name": "db"},
 "mark": {"type": "circle", "color": "#000000", "size": 13, "opacity": 1, "clip": true},
 "encoding": {"x": {"field": "t", "type": "quantitative"}, "y": {"field": "P", "type": "quantitative"}}},
{"data": {"values": [{}]},
 "mark": {"type": "rect", "color": "white", "opacity": 1, "clip": true},
 "encoding": {"x": {"datum": 9.113}, "x2": {"datum": 11.2}, "y": {"datum": 67}, "y2": {"datum": 7}}},
{"data": {"values": [{}]},
 "mark": {"type": "rect", "color": "white", "opacity": 1},
 "encoding": {"x": {"datum": 7.045}, "x2": {"datum": 7.45}, "y": {"datum": 266}, "y2": {"datum": 249}}},
{"data": {"values": [{}]},
 "mark": {"type": "text", "text": ["Забойное давление", "реагирующей скважины Е1"], "align": "left", "baseline": "middle", "fontSize": 17, "lineHeight": 25, "color": "#111111"},
 "encoding": {"x": {"datum": 9.234}, "y": {"datum": 47}}},
{"data": {"values": [{}]},
 "mark": {"type": "text", "text": "б)", "align": "left", "baseline": "alphabetic", "fontSize": 28, "fontWeight": "bold", "fontStyle": "italic", "color": "#000000"},
 "encoding": {"x": {"datum": 7.137}, "y": {"datum": 250}}}
]
},
{
"width": 506, "height": 223,
"layer": [
{"data": {"name": "rb"},
 "mark": {"type": "line", "color": "#ff6a2a", "strokeWidth": 1.5, "clip": true},
 "encoding": {
  "x": {"field": "t", "type": "quantitative", "scale": {"domain": [7.016, 11.097], "nice": false, "zero": false},
        "axis": {"values": [8,9,10,11], "format": "d", "labelExpr": "datum.value == 9 ? '' : datum.label", "grid": true, "ticks": false, "domain": false, "labelFontSize": 10, "labelPadding": 8, "labelColor": "#000000", "title": "Время, сут.", "titleFontSize": 16.5, "titleFontWeight": "normal", "titleColor": "#000000", "titleX": 273, "titleY": 17, "titleBaseline": "alphabetic", "titleAlign": "center"}},
  "y": {"field": "Q", "type": "quantitative", "scale": {"domain": [-5, 218], "nice": false, "zero": false}, "axis": {"values": [50,99,148,198], "labels": false, "ticks": false, "domain": false, "title": null, "grid": true}}}},
{"data": {"name": "rb"},
 "mark": {"type": "circle", "color": "#ff5a14", "size": 20, "opacity": 1, "clip": true},
 "encoding": {"x": {"field": "t", "type": "quantitative"}, "y": {"field": "Q", "type": "quantitative"}}},
{"data": {"values": [{}]},
 "mark": {"type": "rect", "color": "white", "opacity": 1, "clip": true},
 "encoding": {"x": {"datum": 10.097}, "x2": {"datum": 11.2}, "y": {"datum": 90}, "y2": {"datum": 6}}},
{"data": {"values": [{}]},
 "mark": {"type": "text", "text": ["Дебит  газа", "активной", "скважины О1"], "align": "left", "baseline": "middle", "fontSize": 17, "lineHeight": 24, "color": "#111111"},
 "encoding": {"x": {"datum": 10.129}, "y": {"datum": 70}}}
]
}
],
"spacing": 0, "bounds": "flush",
"resolve": {"scale": {"x": "independent", "y": "independent", "strokeDash": "independent"}}
}
],
"spacing": 30,
"resolve": {"scale": {"x": "independent", "y": "independent", "strokeDash": "independent"}}
}
